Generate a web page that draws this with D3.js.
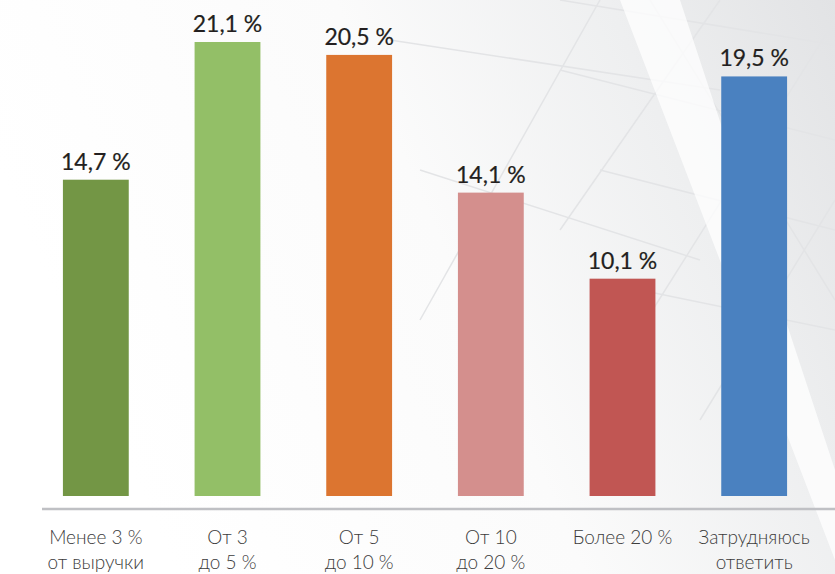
<!DOCTYPE html>
<html>
<head>
<meta charset="utf-8">
<script src="https://cdn.jsdelivr.net/npm/d3@7"></script>
<style>
  body { margin: 0; background: #fff; }
  svg { display: block; font-family: Lato, "Open Sans", sans-serif; }
</style>
</head>
<body>
<script>
// data
var categories = [
  ["Менее 3 %", "от выручки"],
  ["От 3", "до 5 %"],
  ["От 5", "до 10 %"],
  ["От 10", "до 20 %"],
  ["Более 20 %"],
  ["Затрудняюсь", "ответить"]
];
var values = [14.7, 21.1, 20.5, 14.1, 10.1, 19.5];
var valueLabels = ["14,7 %", "21,1 %", "20,5 %", "14,1 %", "10,1 %", "19,5 %"];
var colors = ["#739645", "#93bf67", "#dc7530", "#d48f8d", "#c15653", "#4a81c0"];

var width = 835, height = 574;

var svg = d3.select("body").append("svg")
  .attr("width", width)
  .attr("height", height);

// background: soft grey gradient with faint architectural lines
var defs = svg.append("defs");
var grad = defs.append("linearGradient")
  .attr("id", "bg").attr("x1", "0").attr("y1", "0.3").attr("x2", "1").attr("y2", "0");
grad.append("stop").attr("offset", "0").attr("stop-color", "#ffffff");
grad.append("stop").attr("offset", "0.45").attr("stop-color", "#fbfbfb");
grad.append("stop").attr("offset", "0.75").attr("stop-color", "#eeeff0");
grad.append("stop").attr("offset", "1").attr("stop-color", "#e2e3e5");
svg.append("rect").attr("width", width).attr("height", height).attr("fill", "url(#bg)");

var deco = svg.append("g").attr("stroke", "#e3e4e6").attr("stroke-width", 1.5).attr("fill", "none");
[
  [560, 0, 835, 45], [560, 70, 835, 140], [600, 170, 835, 230], [640, 290, 835, 330],
  [600, 0, 420, 320], [720, 0, 560, 230], [835, 20, 640, 330], [835, 200, 700, 420],
  [650, 0, 835, 300], [390, 40, 720, 90], [420, 170, 700, 260]
].forEach(function(l) {
  deco.append("line").attr("x1", l[0]).attr("y1", l[1]).attr("x2", l[2]).attr("y2", l[3]);
});
// bright diagonal band
svg.append("path")
  .attr("d", "M620,0 L680,0 L835,470 L835,560 Z")
  .attr("fill", "#ffffff").attr("opacity", 0.75);

var x = d3.scaleBand()
  .domain(d3.range(values.length))
  .range([30, 820])
  .paddingInner(0.5)
  .paddingOuter(0.25);

var y = d3.scaleLinear()
  .domain([0, d3.max(values)])
  .range([496, 42]);

// bars
svg.append("g").selectAll("rect")
  .data(values)
  .enter().append("rect")
  .attr("x", function(d, i) { return x(i); })
  .attr("y", function(d) { return y(d); })
  .attr("width", x.bandwidth())
  .attr("height", function(d) { return y(0) - y(d); })
  .attr("fill", function(d, i) { return colors[i]; });

// value labels
svg.append("g").selectAll("text")
  .data(values)
  .enter().append("text")
  .attr("x", function(d, i) { return x(i) + x.bandwidth() / 2; })
  .attr("y", function(d) { return y(d) - 10; })
  .attr("text-anchor", "middle")
  .attr("font-size", 23)
  .attr("font-weight", 400)
  .attr("fill", "#231f20")
  .attr("stroke", "#231f20")
  .attr("stroke-width", 0.2)
  .text(function(d, i) { return valueLabels[i]; });

// axis line
svg.append("line")
  .attr("x1", 42).attr("x2", width)
  .attr("y1", 509).attr("y2", 509)
  .attr("stroke", "#bfc0c4")
  .attr("stroke-width", 2.5);

// category labels
var cat = svg.append("g").selectAll("text")
  .data(categories)
  .enter().append("text")
  .attr("x", function(d, i) { return x(i) + x.bandwidth() / 2; })
  .attr("y", 544)
  .attr("text-anchor", "middle")
  .attr("font-size", 19)
  .attr("font-weight", 300)
  .attr("fill", "#3c3c3c");

cat.selectAll("tspan")
  .data(function(d) { return d; })
  .enter().append("tspan")
  .attr("x", function() { return d3.select(this.parentNode).attr("x"); })
  .attr("dy", function(d, i) { return i === 0 ? 0 : 25; })
  .text(function(d) { return d; });
</script>
</body>
</html>
